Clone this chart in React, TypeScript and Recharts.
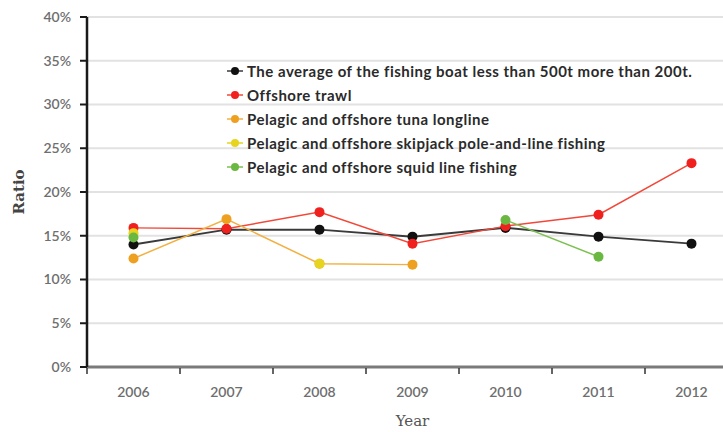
import React from 'react';
import { LineChart, Line, XAxis, YAxis, CartesianGrid, Label } from 'recharts';

// Years on the category axis
const years = ['2006', '2007', '2008', '2009', '2010', '2011', '2012'];

// Ratio in percent (null = no value that year)
const average = [14.0, 15.7, 15.7, 14.9, 15.9, 14.9, 14.1];
const offshoreTrawl = [15.9, 15.8, 17.7, 14.1, 16.1, 17.4, 23.3];
const tunaLongline = [12.4, 16.9, 11.8, 11.7, null, null, null];
const skipjackPole = [15.3, null, 11.8, null, null, null, null];
const squidLine = [14.8, null, null, null, 16.8, 12.6, null];

const yTicks = [0, 5, 10, 15, 20, 25, 30, 35, 40];

const SERIES = [
    { key: 'average', name: 'The average of the fishing boat less than 500t more than 200t.', color: '#111111', line: '#3a3a3a', width: 2, values: average },
    { key: 'trawl', name: 'Offshore trawl', color: '#f0201e', line: '#f2483a', width: 1.5, values: offshoreTrawl },
    { key: 'tuna', name: 'Pelagic and offshore tuna longline', color: '#eea020', line: '#f2b040', width: 1.5, values: tunaLongline },
    { key: 'skipjack', name: 'Pelagic and offshore skipjack pole-and-line fishing', color: '#e6d41e', line: '#e6d41e', width: 1.5, values: skipjackPole },
    { key: 'squid', name: 'Pelagic and offshore squid line fishing', color: '#6ab842', line: '#7cc050', width: 1.5, values: squidLine },
];

const data = years.map((year, i) => {
    const row: Record<string, string | number | null> = { year };
    SERIES.forEach((s) => { row[s.key] = s.values[i]; });
    return row;
});

const TICK_FONT = 'Lato, "Open Sans", sans-serif';

// x tick: label centred in its band, small mark at the band's left edge
function YearTick(props: any) {
    const { x, y, payload } = props;
    const half = payload && payload.offset ? payload.offset : 0;
    return (
        <g>
            <line x1={x - half} x2={x - half} y1={y - 7} y2={y - 1} stroke="#333" strokeWidth={1.5} />
            <text x={x} y={y + 22} textAnchor="middle" fontSize={14} fontFamily={TICK_FONT} fontWeight={600} fill="#6e6e6e">
                {payload.value}
            </text>
        </g>
    );
}

function SeriesLegend() {
    return (
        <div style={{ position: 'absolute', left: 226, top: 59, fontFamily: TICK_FONT, fontWeight: 700, fontSize: 15, letterSpacing: 0.5, color: '#2a2a2a' }}>
            {SERIES.map((s) => (
                <div key={s.key} style={{ display: 'flex', alignItems: 'center', height: 24, whiteSpace: 'nowrap' }}>
                    <svg width={18} height={12} style={{ marginRight: 3 }}>
                        <line x1={1} x2={17} y1={6} y2={6} stroke={s.line} strokeWidth={1.5} />
                        <circle cx={9} cy={6} r={4} fill={s.color} />
                    </svg>
                    <span>{s.name}</span>
                </div>
            ))}
        </div>
    );
}

export default function App() {
    return (
        <div style={{ position: 'fixed', left: 0, top: 0, width: 723, height: 432, overflow: 'hidden', background: '#fff' }}>
            <LineChart width={745} height={432} data={data} margin={{ top: 17, right: 7, left: 0, bottom: 0 }}>
                <CartesianGrid horizontal vertical={false} stroke="#e2e2e2" strokeWidth={2} />
                <XAxis
                    dataKey="year"
                    scale="band"
                    height={65}
                    axisLine={{ stroke: '#7a7a7a', strokeWidth: 3 }}
                    tickLine={false}
                    tick={<YearTick />}
                    interval={0}
                >
                    <Label value="Year" position="insideBottom" offset={6} style={{ fontFamily: '"DejaVu Serif", serif', fontSize: 15, fill: '#555' }} />
                </XAxis>
                <YAxis
                    width={87}
                    domain={[0, 40]}
                    ticks={yTicks}
                    interval={0}
                    allowDataOverflow
                    axisLine={{ stroke: '#1a1a1a', strokeWidth: 2.5 }}
                    tickLine={{ stroke: '#1a1a1a', strokeWidth: 2 }}
                    tickSize={7}
                    tickMargin={9}
                    tickFormatter={(v: number) => `${v}%`}
                    tick={{ fontSize: 14, fontFamily: TICK_FONT, fontWeight: 600, fill: '#6e6e6e' }}
                >
                    <Label value="Ratio" angle={-90} position="insideLeft" offset={19} style={{ textAnchor: 'middle', fontFamily: '"DejaVu Serif", serif', fontWeight: 700, fontSize: 15, fill: '#444' }} />
                </YAxis>
                {SERIES.map((s) => (
                    <Line
                        key={s.key}
                        type="linear"
                        dataKey={s.key}
                        name={s.name}
                        stroke={s.line}
                        strokeWidth={s.width}
                        dot={{ r: 5, fill: s.color, stroke: 'none' }}
                        activeDot={false}
                        isAnimationActive={false}
                    />
                ))}
            </LineChart>
            <SeriesLegend />
        </div>
    );
}
